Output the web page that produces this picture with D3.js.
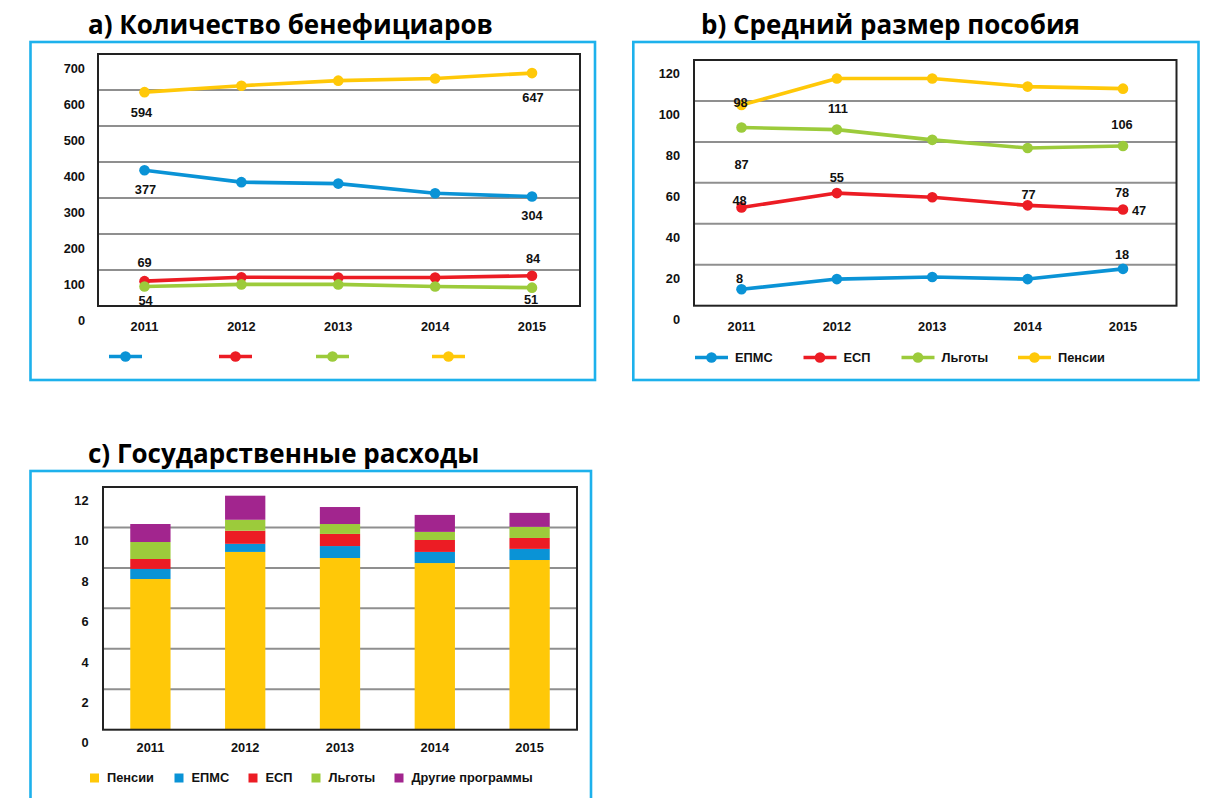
<!DOCTYPE html>
<html>
<head>
<meta charset="utf-8">
<script src="https://cdn.jsdelivr.net/npm/d3@7"></script>
<style>
  html, body { margin: 0; padding: 0; background: #fff; }
  svg { display: block; }
  .tick-label { font-family: "Liberation Sans", Arial, sans-serif; font-weight: bold; font-size: 12.8px; fill: #111; }
  .title { font-family: "Open Sans", "Noto Sans", sans-serif; font-weight: 700; font-size: 26px; fill: #000; }
</style>
</head>
<body>
<svg id="chart" width="1205" height="798"></svg>
<script>
// ---- Shared categories ----
const years = ["2011", "2012", "2013", "2014", "2015"];

// ---- a) Number of beneficiaries (thousands) ----
const benefEPMS   = [377, 344, 340, 313, 304];
const benefESP    = [69, 80, 79, 79, 84];
const benefLgoty  = [54, 60, 60, 54, 51];
const benefPensii = [594, 612, 626, 632, 647];
const benefTicks  = [0, 100, 200, 300, 400, 500, 600, 700];

// ---- b) Average benefit size ----
const avgEPMS   = [8, 13, 14, 13, 18];
const avgESP    = [48, 55, 53, 49, 47];
const avgLgoty  = [87, 86, 81, 77, 78];
const avgPensii = [98, 111, 111, 107, 106];
const avgTicks  = [0, 20, 40, 60, 80, 100, 120];

// ---- c) Government spending ----
const spendPensii = [7.45, 8.79, 8.49, 8.24, 8.39];
const spendEPMS   = [0.50, 0.40, 0.59, 0.55, 0.55];
const spendESP    = [0.49, 0.65, 0.60, 0.59, 0.54];
const spendLgoty  = [0.84, 0.54, 0.49, 0.40, 0.55];
const spendOther  = [0.89, 1.19, 0.84, 0.84, 0.69];
const spendTicks  = [0, 2, 4, 6, 8, 10, 12];

const lineNames  = ["ЕПМС", "ЕСП", "Льготы", "Пенсии"];
const spendNames = ["Пенсии", "ЕПМС", "ЕСП", "Льготы", "Другие программы"];

const C = {
  blue: "#0a93d6", red: "#ec1c24", green: "#9ccb3b", yellow: "#ffc808",
  purple: "#a2258e", frame: "#1db1ec", grid: "#8f8f8f", axis: "#222"
};
const lineColors  = [C.blue, C.red, C.green, C.yellow];
const spendColors = [C.yellow, C.blue, C.red, C.green, C.purple];

const svg = d3.select("#chart");

function panelBox(x0, y0, x1, y1) {
  svg.append("rect")
    .attr("x", x0).attr("y", y0).attr("width", x1 - x0).attr("height", y1 - y0)
    .attr("fill", "none").attr("stroke", C.frame).attr("stroke-width", 2.6);
}

function title(text, x, y) {
  svg.append("text").attr("class", "title").attr("x", x).attr("y", y).text(text);
}

// Gridlines, frame and axis labels shared by all three plots
function plotFrame(g, y, ticks, x0, x1, labelX, labelShift) {
  const [top, bottom] = [y.range()[1], y.range()[0]];
  g.selectAll("line.grid").data(ticks.slice(1, -1)).join("line")
    .attr("class", "grid")
    .attr("x1", x0).attr("x2", x1)
    .attr("y1", d => y(d)).attr("y2", d => y(d))
    .attr("stroke", C.grid).attr("stroke-width", 2);
  g.append("rect")
    .attr("x", x0).attr("y", top).attr("width", x1 - x0).attr("height", bottom - top)
    .attr("fill", "none").attr("stroke", C.axis).attr("stroke-width", 2);
  g.selectAll("text.ylab").data(ticks).join("text")
    .attr("class", "tick-label ylab")
    .attr("x", labelX).attr("y", d => y(d) + labelShift)
    .attr("dy", "0.35em").attr("text-anchor", "end")
    .text(d => d);
}

function lineChart(opts) {
  const { series, ticks, x0, x1, top, bottom, xr, labelX, labelShift, yearY, labels, legend } = opts;
  const g = svg.append("g");
  const y = d3.scaleLinear().domain([0, ticks[ticks.length - 1]]).range([bottom, top]);
  const x = d3.scalePoint().domain(years).range(xr);
  plotFrame(g, y, ticks, x0, x1, labelX, labelShift);

  g.selectAll("text.xlab").data(years).join("text")
    .attr("class", "tick-label xlab")
    .attr("x", d => x(d)).attr("y", yearY).attr("dy", "0.35em")
    .attr("text-anchor", "middle").text(d => d);

  const line = d3.line().x((d, i) => x(years[i])).y(d => y(d));
  series.forEach((vals, s) => {
    const sg = g.append("g");
    sg.append("path").datum(vals)
      .attr("d", line).attr("fill", "none")
      .attr("stroke", lineColors[s]).attr("stroke-width", 3.6)
      .attr("stroke-linejoin", "round");
    sg.selectAll("circle").data(vals).join("circle")
      .attr("cx", (d, i) => x(years[i])).attr("cy", d => y(d))
      .attr("r", 5.3).attr("fill", lineColors[s]);
  });

  g.selectAll("text.val").data(labels).join("text")
    .attr("class", "tick-label val")
    .attr("x", d => x(years[d.i]) + d.dx)
    .attr("y", d => y(series[d.s][d.i]) + d.dy)
    .attr("dy", "0.35em").attr("text-anchor", "middle")
    .text(d => series[d.s][d.i]);

  // legend: line segment with a dot in the middle, optional name
  const lg = g.append("g");
  lineNames.forEach((name, s) => {
    const lx = legend.xs[s];
    lg.append("line")
      .attr("x1", lx).attr("x2", lx + 33)
      .attr("y1", legend.y).attr("y2", legend.y)
      .attr("stroke", lineColors[s]).attr("stroke-width", 3.6);
    lg.append("circle").attr("cx", lx + 16.5).attr("cy", legend.y).attr("r", 5.3)
      .attr("fill", lineColors[s]);
    if (legend.showNames) {
      lg.append("text").attr("class", "tick-label")
        .attr("x", lx + 40).attr("y", legend.y).attr("dy", "0.35em")
        .text(name);
    }
  });
}

// ---------- a) ----------
panelBox(30.5, 42, 595, 380);
title("a) Количество бенефициаров", 88, 34);
lineChart({
  series: [benefEPMS, benefESP, benefLgoty, benefPensii],
  ticks: benefTicks,
  x0: 98, x1: 580, top: 54, bottom: 306,
  xr: [144.5, 532],
  labelX: 85, labelShift: 14.5, yearY: 326.5,
  labels: [
    { s: 3, i: 0, dx: -3, dy: 20 }, { s: 3, i: 4, dx: 1, dy: 24 },
    { s: 0, i: 0, dx: 1, dy: 19 },  { s: 0, i: 4, dx: 0, dy: 19 },
    { s: 1, i: 0, dx: 0, dy: -19 }, { s: 1, i: 4, dx: 1, dy: -17 },
    { s: 2, i: 0, dx: 1, dy: 14 },  { s: 2, i: 4, dx: -1, dy: 12 }
  ],
  legend: { y: 356.5, xs: [109, 219, 316, 432], showNames: false }
});

// ---------- b) ----------
panelBox(633.3, 42, 1198.5, 380);
title("b) Средний размер пособия", 701, 34);
lineChart({
  series: [avgEPMS, avgESP, avgLgoty, avgPensii],
  ticks: avgTicks,
  x0: 694, x1: 1176.5, top: 60, bottom: 305.7,
  xr: [741.5, 1123],
  labelX: 680, labelShift: 13.5, yearY: 326.5,
  labels: [
    { s: 3, i: 0, dx: -1, dy: -3 }, { s: 3, i: 1, dx: 1, dy: 30 }, { s: 3, i: 4, dx: -1, dy: 36 },
    { s: 2, i: 0, dx: 0, dy: 37 },  { s: 2, i: 3, dx: 1, dy: 46 }, { s: 2, i: 4, dx: -1, dy: 47 },
    { s: 1, i: 0, dx: -2, dy: -7 }, { s: 1, i: 1, dx: 0, dy: -16 }, { s: 1, i: 4, dx: 16, dy: 1 },
    { s: 0, i: 0, dx: -2, dy: -11 }, { s: 0, i: 4, dx: -1, dy: -14 }
  ],
  legend: { y: 357.5, xs: [695, 803.5, 901.5, 1018], showNames: true }
});

// ---------- c) ----------
panelBox(30.5, 471, 591, 830);
title("c) Государственные расходы", 88, 463);
(function () {
  const x0 = 103, x1 = 577, top = 487, bottom = 729.7;
  const g = svg.append("g");
  const y = d3.scaleLinear().domain([0, 12]).range([bottom, top]);
  const x = d3.scaleBand().domain(years).range([x0, x1]).paddingInner(0.575).paddingOuter(0.2875);
  plotFrame(g, y, spendTicks, x0, x1, 88.5, 13.3);

  const rows = years.map((yr, i) => ({
    year: yr,
    "Пенсии": spendPensii[i], "ЕПМС": spendEPMS[i], "ЕСП": spendESP[i],
    "Льготы": spendLgoty[i], "Другие программы": spendOther[i]
  }));
  const stacked = d3.stack().keys(spendNames)(rows);
  // bars go under the frame's bottom edge
  const bars = g.insert("g", "rect");
  stacked.forEach((layer, k) => {
    bars.selectAll(null).data(layer).join("rect")
      .attr("x", d => x(d.data.year)).attr("width", x.bandwidth())
      .attr("y", d => y(d[1])).attr("height", d => y(d[0]) - y(d[1]))
      .attr("fill", spendColors[k]);
  });

  g.selectAll("text.xlab").data(years).join("text")
    .attr("class", "tick-label xlab")
    .attr("x", d => x(d) + x.bandwidth() / 2).attr("y", 747.3).attr("dy", "0.35em")
    .attr("text-anchor", "middle").text(d => d);

  const legX = [90, 174.5, 248.5, 311.5, 394.5];
  spendNames.forEach((name, k) => {
    g.append("rect").attr("x", legX[k]).attr("y", 773.5).attr("width", 9).attr("height", 9)
      .attr("fill", spendColors[k]);
    g.append("text").attr("class", "tick-label")
      .attr("x", legX[k] + 17).attr("y", 778).attr("dy", "0.35em").text(name);
  });
})();
</script>
</body>
</html>
